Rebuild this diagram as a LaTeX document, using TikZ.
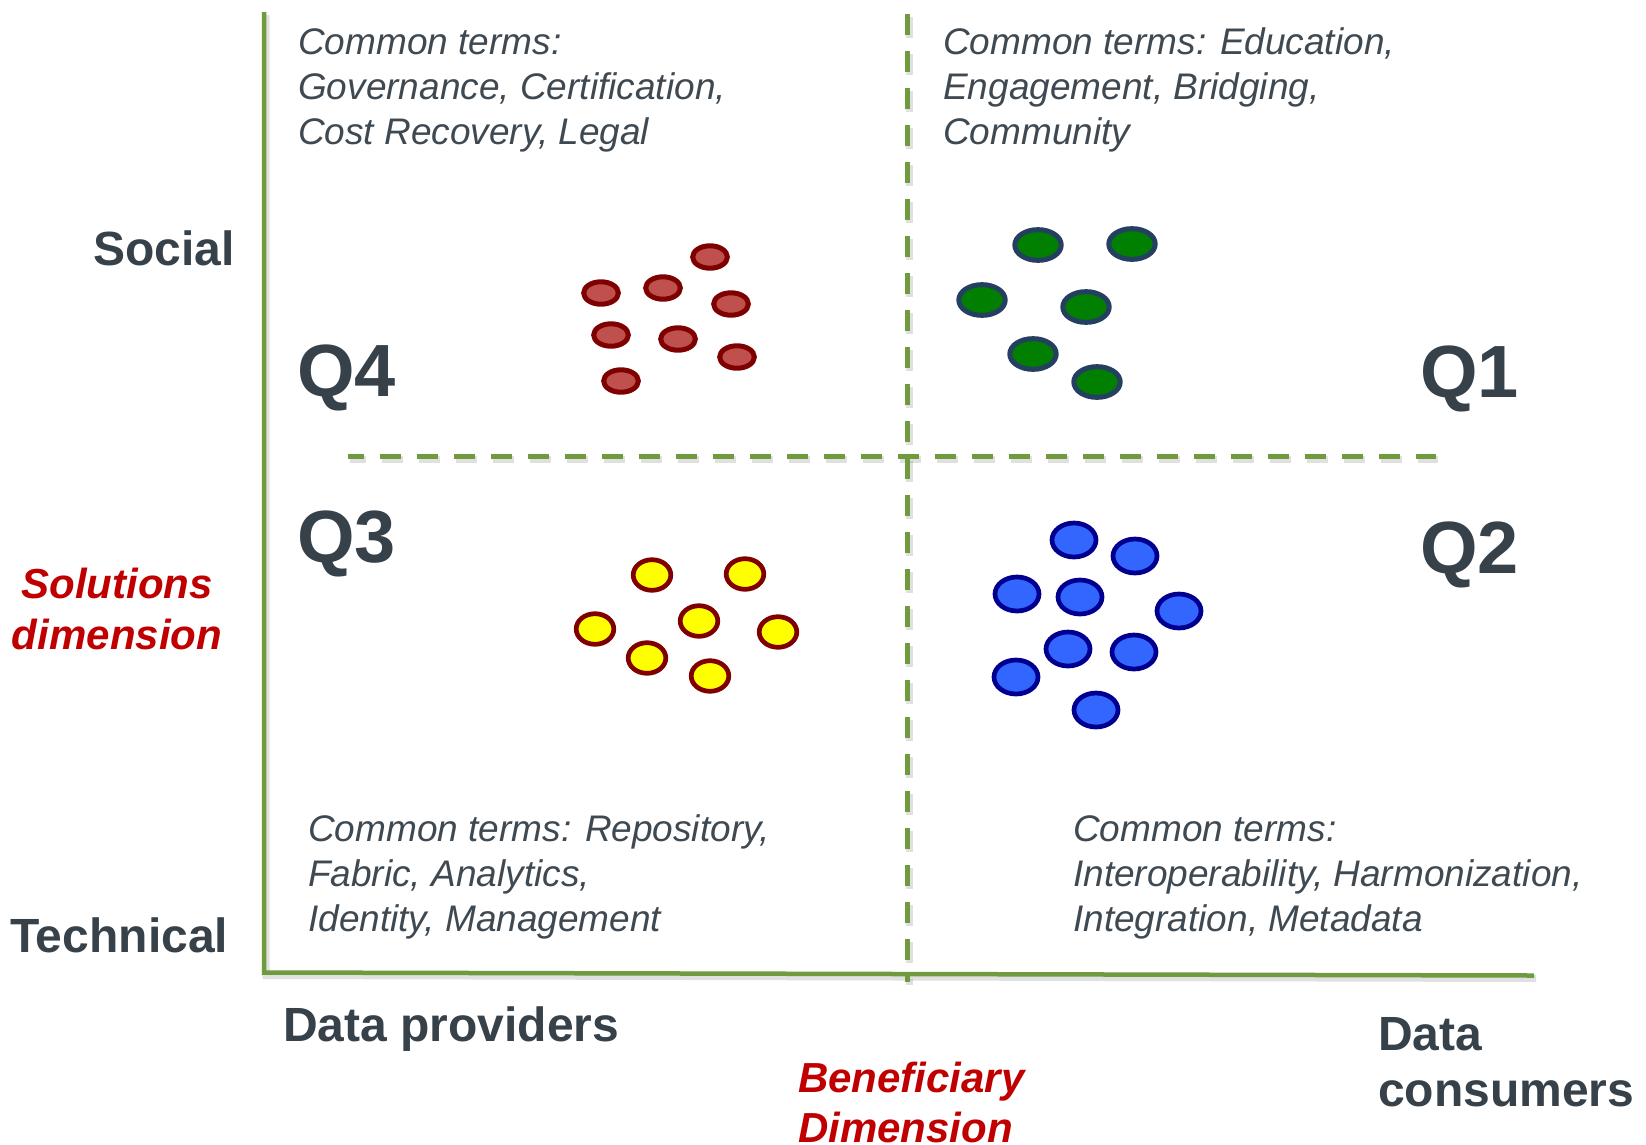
\documentclass[tikz,border=0pt]{standalone}
\usepackage{fontspec}
\setmainfont{Liberation Sans}
\usetikzlibrary{shapes.geometric}
\definecolor{axisgreen}{HTML}{709A3E}
\definecolor{txtdark}{HTML}{36414A}
\definecolor{txtgray}{HTML}{3F4952}
\definecolor{dimred}{HTML}{C00000}
\definecolor{redfill}{HTML}{C0504D}
\definecolor{redline}{HTML}{7F0000}
\definecolor{greenfill}{HTML}{007F00}
\definecolor{greenline}{HTML}{243F60}
\definecolor{yellowfill}{HTML}{FFFF00}
\definecolor{yellowline}{HTML}{800000}
\definecolor{bluefill}{HTML}{3366FF}
\definecolor{blueline}{HTML}{000090}
\tikzset{
  blob/.style={ellipse, inner sep=0pt},
  redblob/.style={blob, draw=redline, fill=redfill, line width=5pt, minimum width=34.7pt, minimum height=22.4pt},
  greenblob/.style={blob, draw=greenline, fill=greenfill, line width=5pt, minimum width=46.4pt, minimum height=30.7pt},
  yellowblob/.style={blob, draw=yellowline, fill=yellowfill, line width=4.7pt, minimum width=37.6pt, minimum height=30.6pt},
  blueblob/.style={blob, draw=blueline, fill=bluefill, line width=4.7pt, minimum width=44pt, minimum height=34pt},
  terms/.style={anchor=base west, inner sep=0pt, align=left, text=txtgray, font=\fontsize{37}{45}\selectfont\itshape},
  axislabel/.style={anchor=base west, inner sep=0pt, text=txtdark, font=\fontsize{48}{56}\selectfont\bfseries},
  qlabel/.style={anchor=base west, inner sep=0pt, text=txtdark, font=\fontsize{74}{80}\selectfont\bfseries},
  dimlabel/.style={inner sep=0pt, text=dimred, font=\fontsize{42}{50}\selectfont\bfseries\itshape},
  axisline/.style={draw=axisgreen, line width=4.5pt},
  dashline/.style={draw=axisgreen, line width=5pt, dash pattern=on 21pt off 16pt},
  shadowline/.style={draw=black, opacity=0.12, line width=7pt},
}
\begin{document}
\begin{tikzpicture}[x=1pt, y=-1pt]
\useasboundingbox (0,0) rectangle (1646,1144);
\clip (0,0) rectangle (1646,1144);
\fill[white] (0,0) rectangle (1646,1144);

% coordinates of the axes
\coordinate (ytop) at (264,12);
\coordinate (origin) at (264,972.5);
\coordinate (xend) at (1534,975.5);
\coordinate (vtop) at (907,14);
\coordinate (vbot) at (907,982);
\coordinate (hleft) at (347.7,456.5);
\coordinate (hright) at (1435.7,456.5);

% shadows
\draw[shadowline] ([shift={(2,3)}]ytop) -- ([shift={(2,3)}]origin) -- ([shift={(2,3)}]xend);
\draw[shadowline, dash pattern=on 21pt off 16pt] ([shift={(2,3)}]vtop) -- ([shift={(2,3)}]vbot);
\draw[shadowline, dash pattern=on 21pt off 16pt, dash phase=5pt] ([shift={(2,3)}]hleft) -- ([shift={(2,3)}]hright);

% axes
\draw[axisline, line join=miter] (ytop) -- (origin) -- (xend);
\draw[dashline] (vtop) -- (vbot);
\draw[dashline, dash phase=5pt] (hleft) -- (hright);

% text blocks (anchor = baseline of the last line)
\node[terms] (tl) at (298,144) {Common terms:\\Governance, Certification,\\Cost Recovery, Legal};
\node[terms] (tr) at (943,144) {Common terms: Education,\\Engagement, Bridging,\\Community};
\node[terms] (bl) at (308,931) {Common terms: Repository,\\Fabric, Analytics,\\Identity, Management};
\node[terms] (br) at (1073,931) {Common terms:\\Interoperability, Harmonization,\\Integration, Metadata};

% axis labels
\node[axislabel, anchor=base east] (social) at (235,265) {Social};
\node[axislabel] (technical) at (10,952) {Technical};
\node[axislabel] (providers) at (283,1041) {Data providers};
\node[axislabel, align=left] (consumers) at (1378,1106) {Data\\consumers};
\node[dimlabel, anchor=base, align=center, font=\fontsize{42}{51}\selectfont\bfseries\itshape] (solutions) at (117,649) {Solutions\\dimension};
\node[dimlabel, anchor=base west, align=left] (beneficiary) at (798,1142) {Beneficiary\\Dimension};

% quadrant labels
\node[qlabel] (q4) at (297,396) {Q4};
\node[qlabel] (q1) at (1420,397) {Q1};
\node[qlabel] (q3) at (297,562) {Q3};
\node[qlabel] (q2) at (1420,573) {Q2};

% Q4 red blobs
\node[redblob] (r1) at (710,257) {};
\node[redblob] (r2) at (601,293) {};
\node[redblob] (r3) at (663,288) {};
\node[redblob] (r4) at (731,304) {};
\node[redblob] (r5) at (611,335) {};
\node[redblob] (r6) at (678,339) {};
\node[redblob] (r7) at (737,357) {};
\node[redblob] (r8) at (621,381) {};

% Q1 green blobs
\node[greenblob] (g1) at (1038,245) {};
\node[greenblob] (g2) at (1132,244) {};
\node[greenblob] (g3) at (982,300) {};
\node[greenblob] (g4) at (1086,307) {};
\node[greenblob] (g5) at (1033,354) {};
\node[greenblob] (g6) at (1097,382) {};

% Q3 yellow blobs
\node[yellowblob] (y1) at (652,575) {};
\node[yellowblob] (y2) at (745,574) {};
\node[yellowblob] (y3) at (595,629) {};
\node[yellowblob] (y4) at (699,621) {};
\node[yellowblob] (y5) at (778,632) {};
\node[yellowblob] (y6) at (647,658) {};
\node[yellowblob] (y7) at (710,676) {};

% Q2 blue blobs
\node[blueblob] (b1) at (1074,540) {};
\node[blueblob] (b2) at (1135,556) {};
\node[blueblob] (b3) at (1017,594) {};
\node[blueblob] (b4) at (1080,597) {};
\node[blueblob] (b5) at (1179,611) {};
\node[blueblob] (b6) at (1068,649) {};
\node[blueblob] (b7) at (1134,652) {};
\node[blueblob] (b8) at (1016,677) {};
\node[blueblob] (b9) at (1096,710) {};
\end{tikzpicture}
\end{document}
